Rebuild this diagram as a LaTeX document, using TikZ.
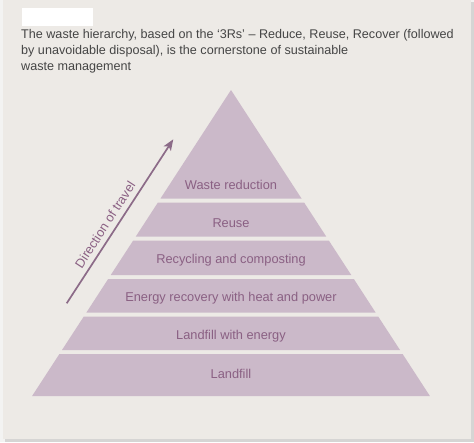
\documentclass[tikz,border=0pt]{standalone}
\usepackage{fontspec}
\setmainfont{Liberation Sans}
\usetikzlibrary{arrows.meta,calc}
\definecolor{outerbg}{HTML}{F3F3F2}
\definecolor{shadowc}{HTML}{D6D5D4}
\definecolor{panel}{HTML}{EDEAE6}
\definecolor{pyr}{HTML}{CBB9C9}
\definecolor{pyrtext}{HTML}{8A6083}
\definecolor{arrowc}{HTML}{8C6B88}
\definecolor{captext}{HTML}{454545}
\tikzset{
  band/.style={fill=pyr, draw=none},
  lbl/.style={font=\fontsize{12.8}{15}\selectfont, text=pyrtext, anchor=base, inner sep=0pt},
  captionline/.style={font=\fontsize{12.6}{16}\selectfont, text=captext, anchor=base west, inner sep=0pt},
  travel/.style={draw=arrowc, line width=1.7pt, -{Stealth[length=11pt,width=8.5pt,inset=2.5pt]}}
}
\begin{document}
\begin{tikzpicture}[x=1pt,y=-1pt]
\useasboundingbox (0,0) rectangle (474,442);
% background, shadow and panel
\fill[outerbg] (0,0) rectangle (474,442);
\fill[shadowc] (5,2) rectangle (474,441.5);
\fill[panel] (3,0) rectangle (471,438.5);
% redacted title block
\fill[white] (22,8) rectangle (93,26);
% caption
\node[captionline] (cap1) at (21,38.5) {The waste hierarchy, based on the ‘3Rs’ – Reduce, Reuse, Recover (followed};
\node[captionline] (cap2) at (21,54.5) {by unavoidable disposal), is the cornerstone of sustainable};
\node[captionline] (cap3) at (21,70.5) {waste management};
% pyramid bands
\fill[band] (231,90) -- (301.5,198.5) -- (160.5,198.5) -- cycle;
\fill[band] (157.9,202.5) -- (304.1,202.5) -- (326.2,236.5) -- (135.8,236.5) -- cycle;
\fill[band] (133.2,240.5) -- (328.8,240.5) -- (351.25,275) -- (110.75,275) -- cycle;
\fill[band] (108.15,279) -- (353.85,279) -- (375.6,312.5) -- (86.4,312.5) -- cycle;
\fill[band] (83.8,316.5) -- (378.2,316.5) -- (400,350) -- (62,350) -- cycle;
\fill[band] (59.4,354) -- (402.6,354) -- (429.9,396) -- (32.1,396) -- cycle;
% labels
\node[lbl] (l1) at (231,189.3) {Waste reduction};
\node[lbl] (l2) at (231,227.3) {Reuse};
\node[lbl] (l3) at (231,263.5) {Recycling and composting};
\node[lbl] (l4) at (231,301.7) {Energy recovery with heat and power};
\node[lbl] (l5) at (231,339.3) {Landfill with energy};
\node[lbl] (l6) at (231,378.7) {Landfill};
% direction arrow
\coordinate (astart) at (66.7,303.3);
\coordinate (aend) at (173.3,139.3);
\draw[travel] (astart) -- (aend);
\node[lbl, rotate=57] (dir) at (108.9,227.3) {Direction of travel};
\end{tikzpicture}
\end{document}
